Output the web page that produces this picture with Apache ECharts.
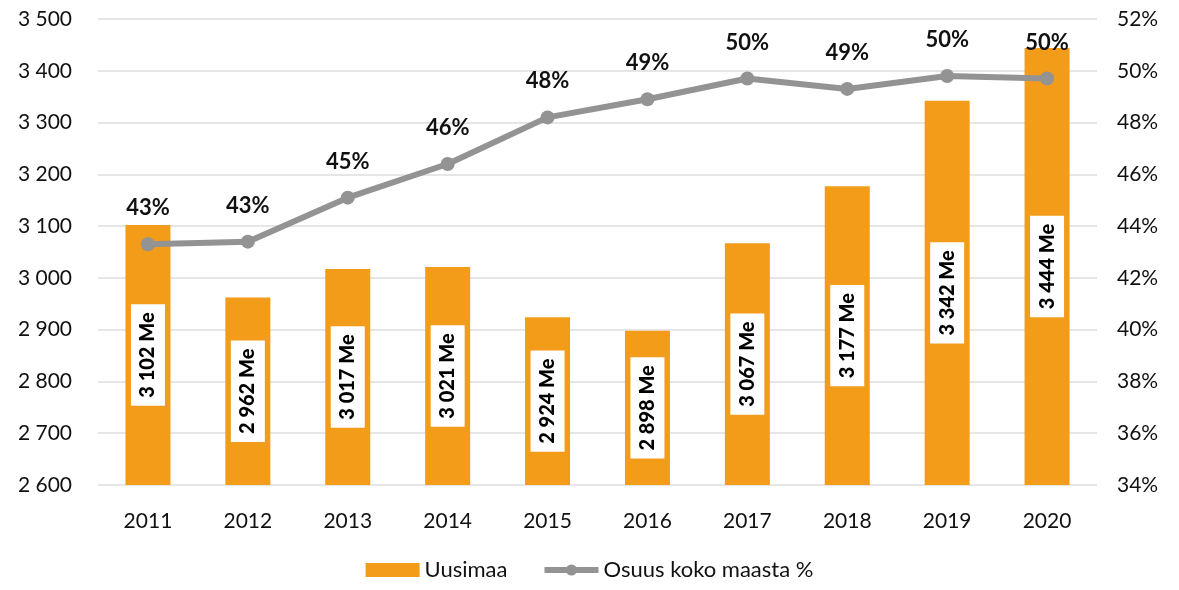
<!DOCTYPE html>
<html>
<head>
<meta charset="utf-8">
<script src="https://cdn.jsdelivr.net/npm/echarts@6/dist/echarts.min.js"></script>
<style>
  html, body { margin: 0; padding: 0; background: #fff; }
  #main { width: 1179px; height: 590px; }
</style>
</head>
<body>
<div id="main"></div>
<script>
const years = ['2011', '2012', '2013', '2014', '2015', '2016', '2017', '2018', '2019', '2020'];
const uusimaa = [3102, 2962, 3017, 3021, 2924, 2898, 3067, 3177, 3342, 3444];
const osuus = [43.3, 43.4, 45.1, 46.4, 48.2, 48.9, 49.7, 49.3, 49.8, 49.7];
const osuusLabels = ['43%', '43%', '45%', '46%', '48%', '49%', '50%', '49%', '50%', '50%'];

const fmt = v => String(v).replace(/\B(?=(\d{3})+(?!\d))/g, ' ');

const chart = echarts.init(document.getElementById('main'));
chart.setOption({
  animation: false,
  textStyle: { fontFamily: 'Lato, "Noto Sans", sans-serif' },
  grid: { left: 98, right: 82, top: 19, bottom: 105 },
  legend: {
    bottom: 4,
    itemGap: 34,
    itemWidth: 54,
    itemHeight: 14,
    textStyle: { fontSize: 22, color: '#111' },
    data: [
      { name: 'Uusimaa', icon: 'rect' },
      { name: 'Osuus koko maasta %' }
    ],
    lineStyle: { width: 6 }
  },
  xAxis: {
    type: 'category',
    data: years,
    axisLine: { show: false },
    axisTick: { show: false },
    axisLabel: { fontSize: 21, color: '#111', margin: 26 }
  },
  yAxis: [
    {
      type: 'value',
      min: 2600, max: 3500, interval: 100,
      axisLabel: { fontSize: 21, color: '#111', margin: 26, formatter: v => fmt(v) },
      splitLine: { lineStyle: { color: '#e6e6e6', width: 2 } }
    },
    {
      type: 'value',
      min: 34, max: 52, interval: 2,
      axisLabel: { fontSize: 21, color: '#111', margin: 20, formatter: '{value}%' },
      splitLine: { show: false }
    }
  ],
  series: [
    {
      name: 'Uusimaa',
      type: 'bar',
      data: uusimaa,
      barWidth: 45,
      itemStyle: { color: '#F39C1A' },
      label: {
        show: true,
        position: 'inside',
        rotate: 90,
        formatter: p => fmt(p.value) + ' Me',
        fontSize: 20,
        fontWeight: 900,
        color: '#000',
        backgroundColor: '#fff',
        padding: [7, 8]
      }
    },
    {
      name: 'Osuus koko maasta %',
      type: 'line',
      yAxisIndex: 1,
      data: osuus,
      symbol: 'circle',
      symbolSize: 14,
      lineStyle: { color: '#939393', width: 6 },
      itemStyle: { color: '#939393' },
      label: {
        show: true,
        position: 'top',
        distance: 18,
        fontSize: 22,
        fontWeight: 'bold',
        color: '#111',
        formatter: p => osuusLabels[p.dataIndex]
      }
    }
  ]
});
</script>
</body>
</html>
